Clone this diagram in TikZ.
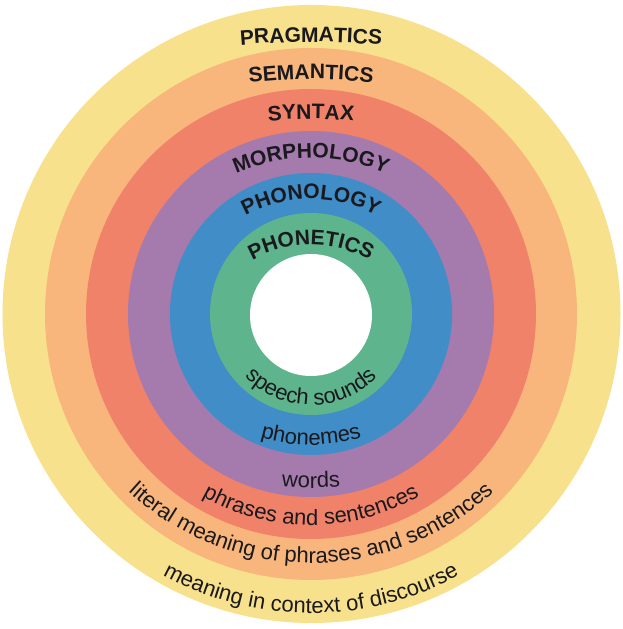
\documentclass[tikz,border=0pt]{standalone}
\usepackage{fontspec}
\setmainfont{Liberation Sans}
\usetikzlibrary{decorations.text}

\definecolor{pragyellow}{RGB}{248,225,140}
\definecolor{semorange}{RGB}{248,182,124}
\definecolor{synred}{RGB}{241,130,106}
\definecolor{morpurple}{RGB}{165,122,173}
\definecolor{phnblue}{RGB}{64,141,199}
\definecolor{phtgreen}{RGB}{94,180,140}
\definecolor{lbltext}{RGB}{25,25,30}

\newcommand{\capsfont}{\bfseries\fontsize{21}{25}\selectfont}
\newcommand{\lowfont}{\fontsize{22}{26}\selectfont}

\tikzset{
  toplbl/.style={decorate,decoration={text along path,text align=center,
    text color=lbltext,text={|\capsfont|#1}}},
  botlbl/.style={decorate,decoration={text along path,text align=center,
    text color=lbltext,text={|\lowfont|#1}}}
}

\begin{document}
\begin{tikzpicture}[x=1pt,y=1pt]
\useasboundingbox (0,0) rectangle (623,629);

\fill[pragyellow] (311.5,315) circle (309);
\fill[semorange] (311,315) circle (266);
\fill[synred] (311,315) circle (225);
\fill[morpurple] (311,315) circle (183);
\fill[phnblue] (311,315) circle (141);
\fill[phtgreen] (311,315) circle (101);
\fill[white] (311,314) circle (61);

% names of the levels
\path[toplbl=PRAGMATICS,shift={(311,-213)}] (100:800) arc[start angle=100,end angle=80,radius=800];
\path[toplbl=SEMANTICS,shift={(311,50)}] (105:500) arc[start angle=105,end angle=75,radius=500];
\path[toplbl=SYNTAX,shift={(311,110)}] (110:400) arc[start angle=110,end angle=70,radius=400];
\path[toplbl=MORPHOLOGY,shift={(311,286)}] (140:185) arc[start angle=140,end angle=40,radius=185];
\path[toplbl=PHONOLOGY,shift={(311,294)}] (150:136) arc[start angle=150,end angle=30,radius=136];
\path[toplbl=PHONETICS,shift={(311,264)}] (150:120) arc[start angle=150,end angle=30,radius=120];

% what each level studies
\path[botlbl={speech sounds},shift={(311,316)}] (190:92) arc[start angle=190,end angle=350,radius=92];
\path[botlbl={phonemes},shift={(311,364)}] (220:180) arc[start angle=220,end angle=320,radius=180];
\path[botlbl={words},shift={(311,491)}] (240:350) arc[start angle=240,end angle=300,radius=350];
\path[botlbl={phrases and sentences},shift={(311,324)}] (210:220) arc[start angle=210,end angle=330,radius=220];
\path[botlbl={literal meaning of phrases and sentences},shift={(311,336)}] (200:270) arc[start angle=200,end angle=340,radius=270];
\path[botlbl={meaning in context of discourse},shift={(311,326)}] (210:310) arc[start angle=210,end angle=330,radius=310];
\end{tikzpicture}
\end{document}
